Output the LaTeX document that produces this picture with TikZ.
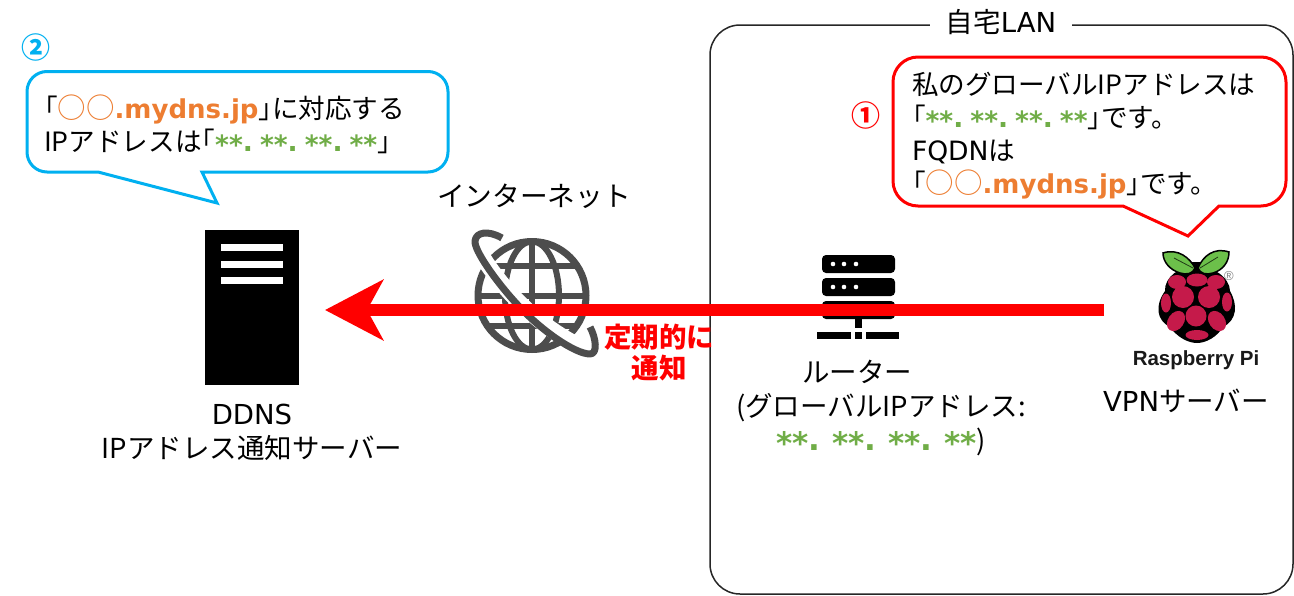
\documentclass[tikz,border=0pt]{standalone}
\usepackage{fontspec}
\setmainfont{Noto Sans CJK JP}
\newfontfamily\logofont{Liberation Sans}
\newfontfamily\latfont{DejaVu Sans}
\usetikzlibrary{arrows.meta}
\definecolor{cyanline}{HTML}{00B0F0}
\definecolor{redline}{HTML}{FF0000}
\definecolor{okgreen}{HTML}{70AD47}
\definecolor{okorange}{HTML}{ED7D31}
\definecolor{globegray}{HTML}{4D4D4D}
\definecolor{berry}{HTML}{C51A4A}
\definecolor{leaf}{HTML}{6CC04A}
\newcommand{\stgroup}[1]{\raisebox{#1}{**}}
\newcommand{\starsat}[3]{{\color{okgreen}\latfont\bfseries\fontsize{#1}{33}\selectfont \stgroup{#3}.\kern#2 \stgroup{#3}.\kern#2 \stgroup{#3}.\kern#2 \stgroup{#3}}}
\newcommand{\stars}{\starsat{26.5}{7pt}{-3pt}}
\newcommand{\org}[1]{{\color{okorange}{\fontsize{28.5}{33}\selectfont ○○}{\latfont\bfseries\fontsize{26}{33}\selectfont #1}}}
\newcommand{\lat}[1]{{\latfont #1}}
\newcommand{\opn}{\leavevmode\kern-13pt「}
\newcommand{\cls}{」\kern-13pt\relax}
\tikzset{
  txt/.style={inner sep=0pt,outer sep=0pt,text=black,font=\fontsize{26.6}{33}\selectfont,align=center},
  txtb/.style={txt,font=\fontsize{27.5}{34}\selectfont},
  txtl/.style={txt,align=left,anchor=north west},
  bubble/.style={line width=3pt,fill=white,line join=miter},
  num/.style={inner sep=0pt,font=\fontsize{29}{32}\selectfont\bfseries},
  notice/.style={inner sep=0pt,text=redline,align=center,font=\fontsize{27.5}{31}\selectfont\bfseries},
  bigarrow/.style={draw=redline,line width=12pt,-{Stealth[length=58pt,width=60pt,inset=16pt]}},
  rack/.style={fill=black,rounded corners=4pt},
  globeline/.style={draw=globegray,line width=7pt},
  seed/.style={fill=berry},
}
\begin{document}
\begin{tikzpicture}[x=1pt,y=-1pt]
\useasboundingbox (0,0) rectangle (1294,595);
% LAN frame
\draw[line width=1.5pt,rounded corners=30pt,draw=black!85] (710,25) rectangle (1293,594);
\node[txtb,fill=white,minimum width=142pt,minimum height=14pt] (lan) at (1001,22) {自宅\lat{LAN}};
% Bubble 2
\draw[bubble,draw=cyanline] (47,71.5) -- (428,71.5) arc[start angle=-90,end angle=0,radius=20] -- (448,152) arc[start angle=0,end angle=90,radius=20]
  -- (202,172) -- (217,203) -- (98,172) -- (47,172) arc[start angle=90,end angle=180,radius=20] -- (27,91.5) arc[start angle=180,end angle=270,radius=20] -- cycle;
\node[txtl] (b2text) at (44,95) {\opn\org{.mydns.jp}\cls に対応する\\IPアドレスは\kern-13pt「\stars\cls};
\node[num,text=cyanline] (n2) at (36,47) {②};
% Bubble 1
\draw[bubble,draw=redline] (918,57) -- (1261,57) arc[start angle=-90,end angle=0,radius=25] -- (1286,181) arc[start angle=0,end angle=90,radius=25]
  -- (1219,206) -- (1188,236) -- (1123,206) -- (918,206) arc[start angle=90,end angle=180,radius=25] -- (893,82) arc[start angle=180,end angle=270,radius=25] -- cycle;
\node[txtl] (b1text) at (912,72.5) {私のグローバルIPアドレスは\\\opn\stars\cls です。\\\lat{FQDN}は\\\opn\org{.mydns.jp}\cls です。};
\node[num,text=redline] (n1) at (866,115) {①};
% Server
\node[fill=black,minimum width=94pt,minimum height=155pt,inner sep=0pt] (srv) at (252,307.5) {};
\foreach \yy in {247,264,280} \fill[white] (221,\yy-3.5) rectangle (283,\yy+3.5);
\node[txtb] (srvlabel) at (252,432) {\lat{DDNS}\\IPアドレス通知サーバー};
% Globe
\begin{scope}
\draw[globeline] (532,295.5) circle[radius=54];
\clip (532,295.5) circle[radius=54];
\draw[globeline,line width=6pt] (532,295.5) ellipse[x radius=27,y radius=54];
\draw[globeline,line width=6pt] (532,240) -- (532,351);
\draw[globeline,line width=6pt] (475,266) -- (590,266) (475,296) -- (590,296) (475,326) -- (590,326);
\end{scope}
\draw[white,line width=16pt] (472,238) .. controls (490,275) and (530,325) .. (592,352);
\draw[draw=globegray,line width=7pt,line join=round,line cap=butt] (502,238) .. controls (488,230) and (476,232) .. (475,241) .. controls (474,250) and (495,280) .. (515,302) .. controls (540,330) and (575,354) .. (590,354) .. controls (598,354) and (596,338) .. (590,327);
\node[txt,font=\fontsize{27.7}{33}\selectfont] (net) at (534,196) {インターネット};
% Router
\fill[rack] (822,255) rectangle (895,273);
\fill[rack] (822,278) rectangle (895,296);
\fill[rack] (822,301) rectangle (895,319);
\foreach \yy in {264,287} \foreach \xx in {833,844,856} \fill[white] (\xx,\yy) circle[radius=2.3];
\fill[black] (855,319) rectangle (862,328);
\fill[black] (817,332) rectangle (851,339);
\fill[black] (855,332) rectangle (862,339);
\fill[black] (866,332) rectangle (899,339);
\node[txtb] (router) at (881,408) {\hspace*{-48pt}ルーター\\(グローバルIPアドレス:\\\starsat{31}{11.8pt}{-4pt})};
% Raspberry Pi logo
\fill[black] (1196,269) .. controls (1180,264) and (1164,278) .. (1165,291) .. controls (1155,305) and (1156,320) .. (1170,327) .. controls (1177,337) and (1188,343) .. (1197,343) .. controls (1206,343) and (1217,337) .. (1223,327) .. controls (1237,320) and (1238,305) .. (1230,291) .. controls (1230,278) and (1212,264) .. (1196,269) -- cycle;
\fill[black] (1196,274) -- (1190,262) -- (1202,262) -- cycle;
\draw[black,line width=1.5pt,fill=leaf] (1163,253) .. controls (1178,248) and (1190,258) .. (1195,268) .. controls (1193,274) and (1186,275) .. (1180,273) .. controls (1170,270) and (1163,262) .. (1163,253) -- cycle;
\draw[black,line width=1.5pt,fill=leaf] (1229,252) .. controls (1214,247) and (1203,256) .. (1198,268) .. controls (1200,274) and (1207,275) .. (1213,273) .. controls (1223,270) and (1229,262) .. (1229,252) -- cycle;
\draw[black!70!leaf,line width=.8pt] (1174,258) -- (1193,268) (1218,257) -- (1200,268);
\fill[seed] (1197,280) ellipse[x radius=10.5,y radius=6.5];
\fill[seed] (1177,282) ellipse[x radius=9,y radius=7];
\fill[seed] (1216,282) ellipse[x radius=9,y radius=7];
\fill[seed] (1183,297) circle[radius=11];
\fill[seed] (1209,297) circle[radius=11];
\fill[seed] (1166,303) ellipse[x radius=5,y radius=9.5];
\fill[seed] (1227,302) ellipse[x radius=5,y radius=9.5];
\fill[seed] (1196,316) circle[radius=10.5];
\fill[seed,rotate around={-35:(1176,321)}] (1176,321) ellipse[x radius=8,y radius=11];
\fill[seed,rotate around={35:(1217,321)}] (1217,321) ellipse[x radius=8,y radius=11];
\fill[seed] (1197,335) ellipse[x radius=11.5,y radius=5];
\node[inner sep=0pt,text=gray,font=\logofont\fontsize{13}{14}\selectfont] (regmark) at (1229,276) {®};
\node[inner sep=0pt,text=black!90,font=\logofont\fontsize{20.5}{24}\selectfont\bfseries] (pilogo) at (1196,360) {Raspberry Pi};
\node[txtb] (pi) at (1186,401) {\lat{VPN}サーバー};
% Arrow
\coordinate (arrowstart) at (1104,310);
\coordinate (arrowend) at (325,310);
\draw[bigarrow] (arrowstart) -- (arrowend);
\node[notice] (notice) at (659,353) {定期的に\\通知};
\end{tikzpicture}
\end{document}
